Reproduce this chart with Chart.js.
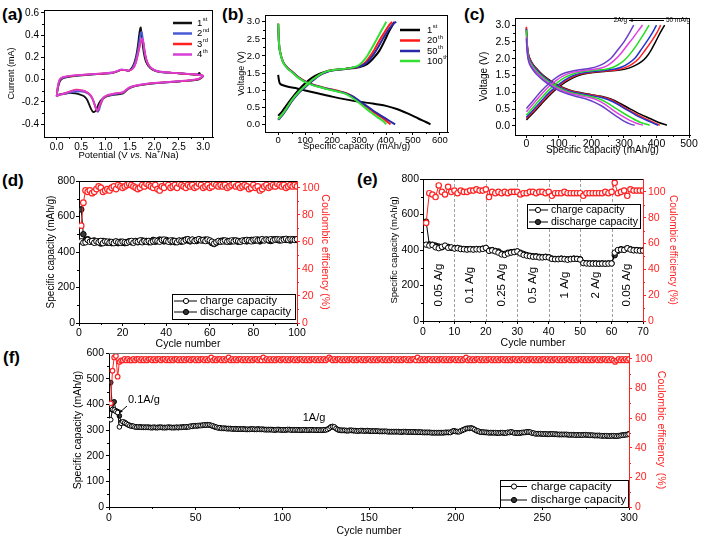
<!DOCTYPE html>
<html><head><meta charset="utf-8">
<script src="https://cdn.jsdelivr.net/npm/chart.js@4.4.1/dist/chart.umd.min.js"></script>
<style>
html,body{margin:0;padding:0;background:#fff;width:702px;height:539px;overflow:hidden;position:relative;font-family:'Liberation Sans',Arial,sans-serif}
canvas{position:absolute;left:0;top:0}
.lbl{position:absolute;font-weight:bold;font-size:17px;color:#000;line-height:1;font-family:'Liberation Sans',Arial,sans-serif}
</style></head><body>
<div class="lbl" style="left:2px;top:6px">(a)</div>
<div class="lbl" style="left:222px;top:6px">(b)</div>
<div class="lbl" style="left:464px;top:6px">(c)</div>
<div class="lbl" style="left:2px;top:172px">(d)</div>
<div class="lbl" style="left:357px;top:171px">(e)</div>
<div class="lbl" style="left:3px;top:349px">(f)</div>
<script>
// ---------------- DATA ----------------
// (a) cyclic voltammetry: [potential V, current mA]
const aCycle1=[[0,-0.15],[0.02,-0.09],[0.06,-0.02],[0.12,0.01],[0.25,0.025],[0.45,0.035],[0.7,0.045],[0.95,0.052],[1.15,0.06],[1.25,0.075],[1.32,0.088],[1.4,0.085],[1.48,0.08],[1.56,0.12],[1.62,0.2],[1.66,0.3],[1.69,0.41],[1.71,0.46],[1.72,0.47],[1.73,0.44],[1.75,0.36],[1.78,0.25],[1.82,0.17],[1.88,0.12],[1.96,0.09],[2.1,0.07],[2.4,0.06],[2.7,0.05],[2.88,0.045],[2.92,0.06],[2.95,0.04],[3,0.03],
 [2.96,0.015],[2.9,0],[2.7,-0.01],[2.4,-0.02],[2.1,-0.03],[1.85,-0.04],[1.65,-0.055],[1.5,-0.075],[1.42,-0.1],[1.36,-0.125],[1.3,-0.13],[1.2,-0.135],[1.08,-0.145],[0.98,-0.16],[0.92,-0.18],[0.87,-0.21],[0.83,-0.25],[0.8,-0.28],[0.77,-0.29],[0.74,-0.29],[0.71,-0.27],[0.67,-0.23],[0.62,-0.18],[0.56,-0.15],[0.48,-0.135],[0.38,-0.125],[0.28,-0.12],[0.18,-0.125],[0.08,-0.13],[0.02,-0.14],[0,-0.15]];
const aCycle2=[[0,-0.15],[0.02,-0.08],[0.06,-0.01],[0.12,0.015],[0.25,0.03],[0.45,0.038],[0.7,0.047],[0.95,0.054],[1.15,0.062],[1.25,0.078],[1.32,0.09],[1.4,0.087],[1.48,0.08],[1.56,0.11],[1.62,0.18],[1.67,0.28],[1.7,0.37],[1.72,0.42],[1.74,0.43],[1.75,0.41],[1.77,0.34],[1.8,0.24],[1.84,0.17],[1.9,0.12],[1.98,0.09],[2.1,0.07],[2.4,0.06],[2.7,0.05],[2.88,0.045],[2.95,0.04],[3,0.035],
 [2.96,0.02],[2.9,0.005],[2.7,-0.01],[2.4,-0.02],[2.1,-0.03],[1.85,-0.04],[1.65,-0.055],[1.5,-0.075],[1.42,-0.1],[1.36,-0.12],[1.3,-0.125],[1.2,-0.13],[1.1,-0.14],[1.02,-0.15],[0.96,-0.17],[0.92,-0.2],[0.89,-0.24],[0.86,-0.28],[0.84,-0.29],[0.82,-0.28],[0.79,-0.24],[0.75,-0.19],[0.7,-0.15],[0.64,-0.125],[0.56,-0.11],[0.48,-0.105],[0.38,-0.11],[0.28,-0.115],[0.18,-0.125],[0.08,-0.135],[0.02,-0.14],[0,-0.15]];
const aCycle3=[[0,-0.15],[0.02,-0.07],[0.06,0],[0.12,0.02],[0.25,0.032],[0.45,0.04],[0.7,0.048],[0.95,0.055],[1.15,0.063],[1.25,0.078],[1.32,0.088],[1.4,0.086],[1.48,0.08],[1.56,0.1],[1.62,0.15],[1.67,0.24],[1.71,0.32],[1.74,0.36],[1.76,0.36],[1.78,0.32],[1.81,0.23],[1.85,0.16],[1.9,0.12],[1.98,0.09],[2.1,0.072],[2.4,0.06],[2.7,0.05],[2.88,0.045],[2.95,0.04],[3,0.035],
 [2.96,0.02],[2.9,0.005],[2.7,-0.008],[2.4,-0.018],[2.1,-0.028],[1.85,-0.038],[1.65,-0.052],[1.5,-0.07],[1.42,-0.095],[1.36,-0.115],[1.3,-0.12],[1.2,-0.125],[1.1,-0.135],[1.02,-0.145],[0.96,-0.165],[0.92,-0.195],[0.88,-0.235],[0.85,-0.27],[0.83,-0.28],[0.81,-0.27],[0.78,-0.23],[0.74,-0.18],[0.69,-0.14],[0.62,-0.115],[0.54,-0.1],[0.46,-0.092],[0.4,-0.09],[0.32,-0.1],[0.22,-0.115],[0.12,-0.13],[0.04,-0.14],[0,-0.15]];
const aCycle4=[[0,-0.15],[0.02,-0.07],[0.06,0],[0.12,0.02],[0.25,0.033],[0.45,0.041],[0.7,0.049],[0.95,0.056],[1.15,0.064],[1.25,0.079],[1.32,0.09],[1.4,0.087],[1.48,0.081],[1.56,0.1],[1.62,0.155],[1.67,0.25],[1.71,0.33],[1.74,0.37],[1.76,0.365],[1.78,0.32],[1.81,0.23],[1.85,0.16],[1.9,0.12],[1.98,0.09],[2.1,0.073],[2.4,0.061],[2.7,0.051],[2.88,0.046],[2.95,0.04],[3,0.036],
 [2.96,0.022],[2.9,0.006],[2.7,-0.007],[2.4,-0.017],[2.1,-0.027],[1.85,-0.037],[1.65,-0.05],[1.5,-0.068],[1.42,-0.092],[1.36,-0.112],[1.3,-0.118],[1.2,-0.124],[1.1,-0.133],[1.02,-0.143],[0.96,-0.16],[0.92,-0.19],[0.88,-0.23],[0.85,-0.265],[0.83,-0.275],[0.8,-0.26],[0.77,-0.22],[0.73,-0.17],[0.68,-0.135],[0.61,-0.112],[0.53,-0.1],[0.45,-0.095],[0.39,-0.095],[0.31,-0.103],[0.21,-0.117],[0.11,-0.13],[0.04,-0.14],[0,-0.15]];
const aLegend=[['1','st'],['2','nd'],['3','rd'],['4','th']];

// (b) charge/discharge profiles: [capacity mAh/g, voltage V]
const b1Dis=[[0,1.45],[1,1.38],[3,1.28],[6,1.2],[15,1.15],[40,1.09],[70,1.05],[100,0.99],[150,0.9],[200,0.81],[250,0.73],[300,0.66],[350,0.61],[400,0.54],[440,0.45],[480,0.32],[520,0.17],[550,0.06],[565,0]];
const b1Chg=[[0,0.25],[15,0.38],[30,0.55],[50,0.76],[75,1.0],[100,1.2],[125,1.36],[150,1.47],[175,1.54],[200,1.58],[250,1.62],[300,1.67],[330,1.76],[355,1.95],[375,2.15],[395,2.45],[410,2.7],[424,2.9],[432,3.0]];
const b20Dis=[[0,2.95],[2,2.5],[6,2.17],[18,1.83],[35,1.65],[52,1.54],[75,1.38],[102,1.25],[130,1.16],[153,1.11],[180,1.05],[204,1.01],[230,0.96],[253,0.91],[275,0.82],[302,0.66],[330,0.5],[352,0.37],[380,0.22],[401,0.1],[417,0]];
const b20Chg=[[0,0.15],[15,0.28],[30,0.45],[52,0.71],[75,0.93],[102,1.12],[128,1.3],[153,1.44],[180,1.54],[204,1.59],[230,1.61],[253,1.63],[280,1.66],[302,1.7],[322,1.8],[340,1.98],[358,2.2],[376,2.46],[395,2.7],[413,2.92],[423,3.0]];
const b50Dis=[[0,2.93],[2,2.48],[6,2.15],[18,1.82],[35,1.64],[52,1.53],[75,1.37],[102,1.24],[130,1.15],[153,1.1],[180,1.04],[204,1.0],[230,0.95],[253,0.9],[278,0.81],[305,0.66],[335,0.5],[360,0.36],[390,0.21],[415,0.09],[434,0]];
const b50Chg=[[0,0.13],[15,0.26],[30,0.43],[52,0.69],[75,0.91],[102,1.1],[128,1.28],[153,1.43],[180,1.53],[204,1.58],[230,1.61],[253,1.63],[280,1.66],[305,1.7],[328,1.8],[348,1.98],[368,2.22],[388,2.5],[408,2.75],[428,2.95],[438,3.0]];
const b100Dis=[[0,2.95],[2,2.5],[6,2.16],[18,1.81],[35,1.63],[52,1.52],[75,1.36],[102,1.23],[130,1.14],[153,1.09],[180,1.03],[204,0.99],[230,0.94],[250,0.89],[270,0.8],[295,0.66],[320,0.5],[342,0.36],[368,0.21],[390,0.09],[401,0]];
const b100Chg=[[0,0.15],[15,0.29],[30,0.46],[52,0.72],[75,0.94],[102,1.13],[128,1.31],[153,1.45],[180,1.55],[204,1.59],[230,1.61],[253,1.63],[275,1.66],[295,1.71],[312,1.82],[330,2.0],[348,2.24],[366,2.5],[384,2.76],[401,3.0]];
const bLegend=[['1','st'],['20','th'],['50','th'],['100','th']];

// (c) rate profiles 50 mA/g ... 2 A/g
const cChg50=[[0,0.18],[10,0.28],[25,0.43],[45,0.64],[70,0.9],[95,1.12],[120,1.3],[145,1.44],[170,1.53],[205,1.59],[240,1.62],[287,1.66],[315,1.72],[335,1.8],[355,1.92],[369,2.05],[383,2.25],[397,2.5],[412,2.78],[425,3.0]];
const cChg100=[[0,0.22],[10,0.32],[25,0.47],[45,0.68],[70,0.94],[95,1.16],[120,1.34],[145,1.47],[170,1.55],[205,1.6],[240,1.63],[280,1.67],[305,1.74],[325,1.84],[345,2.0],[365,2.25],[385,2.52],[400,2.75],[413,3.0]];
const cChg200=[[0,0.26],[10,0.36],[25,0.52],[45,0.73],[70,0.99],[95,1.2],[120,1.38],[145,1.5],[170,1.57],[205,1.62],[240,1.65],[272,1.69],[295,1.76],[315,1.87],[335,2.03],[355,2.3],[373,2.55],[388,2.78],[400,3.0]];
const cChg500=[[0,0.32],[10,0.43],[25,0.6],[45,0.82],[70,1.08],[95,1.29],[120,1.45],[145,1.55],[170,1.61],[205,1.65],[240,1.68],[262,1.73],[282,1.82],[302,1.96],[322,2.18],[342,2.45],[360,2.72],[377,3.0]];
const cChg1000=[[0,0.42],[10,0.53],[25,0.7],[45,0.93],[70,1.18],[95,1.38],[120,1.52],[145,1.6],[170,1.64],[205,1.68],[230,1.72],[250,1.8],[270,1.95],[290,2.15],[310,2.4],[328,2.62],[343,2.82],[357,3.0]];
const cChg2000=[[0,0.52],[10,0.63],[25,0.8],[45,1.03],[70,1.27],[95,1.46],[120,1.58],[145,1.64],[170,1.68],[200,1.72],[220,1.78],[240,1.87],[261,2.02],[280,2.25],[300,2.5],[316,2.75],[330,3.0]];
const cDis50=[[0,2.92],[2,2.5],[5,2.2],[10,2.02],[20,1.84],[32,1.7],[50,1.52],[75,1.34],[100,1.2],[130,1.08],[160,1.0],[200,0.93],[230,0.88],[260,0.8],[290,0.66],[320,0.5],[350,0.35],[380,0.22],[405,0.11],[432,0.02]];
const cDis100=[[0,2.95],[2,2.5],[5,2.2],[10,2.0],[20,1.82],[32,1.68],[50,1.5],[75,1.32],[100,1.18],[130,1.06],[160,0.99],[200,0.92],[230,0.87],[255,0.8],[280,0.68],[310,0.5],[340,0.34],[370,0.2],[392,0.1],[410,0.02]];
const cDis200=[[0,2.88],[2,2.45],[5,2.15],[10,1.97],[20,1.8],[32,1.66],[50,1.48],[75,1.3],[100,1.16],[130,1.04],[160,0.97],[200,0.9],[228,0.85],[252,0.78],[278,0.66],[305,0.5],[335,0.33],[365,0.19],[388,0.09],[405,0.02]];
const cDis500=[[0,2.85],[2,2.4],[5,2.1],[10,1.92],[20,1.76],[32,1.62],[50,1.45],[75,1.27],[100,1.13],[130,1.01],[160,0.94],[200,0.87],[225,0.8],[250,0.68],[275,0.52],[300,0.37],[325,0.23],[350,0.11],[379,0.02]];
const cDis1000=[[0,2.65],[2,2.3],[5,2.05],[10,1.88],[20,1.72],[32,1.58],[50,1.41],[75,1.23],[100,1.09],[130,0.98],[160,0.91],[200,0.83],[220,0.76],[242,0.64],[265,0.48],[290,0.32],[315,0.18],[338,0.08],[358,0.02]];
const cDis2000=[[0,2.6],[2,2.25],[5,2.0],[10,1.83],[20,1.67],[32,1.53],[50,1.37],[75,1.19],[100,1.05],[130,0.94],[160,0.86],[190,0.78],[210,0.7],[230,0.6],[250,0.47],[275,0.3],[300,0.14],[318,0.06],[333,0.02]];
const cRateText=['2A/g','50 mA/g'];

// (d) cycling at 50 mA/g, cycles 1..100
const dCharge=[460,452,455,468,458,462,452,460,455,462, 450,460,458,452,456,450,460,455,452,458,
 455,452,458,462,452,460,458,465,455,462, 458,462,455,460,465,462,458,468,470,462,
 458,465,460,462,455,465,462,460,468,472, 465,470,462,468,472,465,468,462,470,465,
 458,448,455,462,458,460,465,458,462,465, 460,465,462,458,465,462,468,465,460,468,
 470,465,468,472,465,470,468,472,466,470, 472,470,466,470,474,468,472,470,468,472];
const dDischarge=[640,500,468,472,462,458,465,455,460,448, 462,455,452,458,450,456,454,450,458,452,
 450,456,460,455,458,462,455,460,465,458, 462,455,460,468,458,462,470,465,460,468,
 462,456,465,455,460,462,458,466,470,465, 460,468,465,462,470,468,465,470,466,460,
 450,445,452,458,462,465,460,462,458,460, 465,462,458,460,462,465,460,466,468,462,
 465,470,460,466,468,470,465,462,470,472, 468,465,470,472,468,470,465,472,470,468];
const dCE=[72,89,98,97,98,96,97,99,101,100, 97,98,99,98,100,101,99,102,101,100,
 101,102,103,102,101,100,99,100,102,101, 103,102,101,100,102,99,98,101,100,104,
 102,100,101,102,100,103,102,101,100,102, 101,102,100,101,103,102,100,101,102,100,
 101,103,102,101,102,101,102,100,101,102, 103,101,102,100,101,102,101,99,100,102,
 100,101,98,99,101,102,100,101,102,101, 103,102,101,102,100,101,102,101,102,101];

// (e) rate capability, cycles 1..70
const eCharge=[430,425,428,415,410,418,425,412,415,408, 410,405,404,402,404,402,404,403,406,412,
 395,398,392,385,375,372,380,385,388,392, 380,372,368,365,362,362,358,358,360,358,
 350,348,348,350,348,345,348,350,350,346, 326,324,323,323,323,322,323,322,323,324,
 385,400,402,400,410,402,398,398,396,396];
const eDischarge=[560,432,430,425,420,415,422,418,412,410, 412,408,406,405,406,404,406,405,408,410,
 398,400,395,392,380,378,385,388,390,392, 385,378,372,368,365,365,362,360,362,360,
 352,350,350,352,350,348,350,352,350,348, 328,326,325,325,325,324,325,324,325,325,
 370,395,405,402,410,405,400,400,398,398];
const eCE=[76,99,98,96,105,100,98,104,100,101, 99,101,100,100,101,101,102,101,101,102,
 96,100,99,100,99,100,99,100,100,100, 98,99,99,100,100,99,100,100,99,100,
 97,99,99,99,100,99,99,99,99,99, 97,99,99,99,99,99,99,100,99,100,
 107,99,100,101,97,102,101,101,101,101];
const eRates=['0.05 A/g','0.1 A/g','0.25 A/g','0.5 A/g','1 A/g','2 A/g','0.05 A/g'];
const eRateCenters=[5,15,25,35,45,55,65];
const eRateBounds=[10,20,30,40,50,60];

// (f) long cycling at 1 A/g, cycles 1..300
const fCharge=[340,380,378,372,368,312,326,332,328,325,321,317,315,315,312,311,312,311,310,311,
 310,311,310,309,310,311,310,309,310,311,310,309,310,311,310,310,309,310,311,310,
 311,310,311,312,313,312,315,314,317,316,317,318,317,319,320,319,320,320,318,316,
 313,311,308,309,306,307,306,305,306,305,304,305,304,303,304,303,304,303,302,303,
 302,303,304,303,302,303,302,303,302,301,302,301,302,301,300,301,302,301,300,301,
 300,301,302,301,300,301,300,301,300,299,300,301,300,299,300,301,300,299,300,299,
 300,299,300,301,300,302,306,311,313,312,306,302,300,299,298,299,298,297,298,299,
 298,297,296,297,298,297,296,297,298,297,296,295,296,295,296,295,294,295,294,295,
 293,294,293,294,293,294,293,292,293,294,293,292,293,292,293,292,291,292,291,292,
 290,291,290,291,290,289,290,289,290,289,290,289,290,291,290,291,290,295,296,294,
 294,293,297,300,302,306,306,307,307,306,302,297,296,292,291,292,291,290,289,290,
 290,289,290,289,288,289,290,289,288,291,290,293,291,288,289,288,289,290,291,290,
 293,292,292,288,288,285,286,285,286,285,284,285,284,283,284,285,284,283,282,283,
 282,283,282,283,282,281,282,281,280,281,280,281,280,281,282,281,280,279,280,279,
 278,279,278,277,278,277,278,277,276,277,278,277,276,277,278,279,280,281,282,284];
const fDischarge=[485,378,410,375,372,355,330,328,330,324,320,318,316,314,313,312,311,312,311,310,
 311,310,311,310,309,310,309,310,311,310,309,310,309,310,311,309,310,309,310,309,
 310,311,312,311,312,313,314,315,316,317,316,317,318,318,319,320,321,319,317,315,
 312,310,309,308,307,306,307,306,305,306,305,304,305,304,303,304,303,304,303,302,
 303,304,303,302,303,304,303,302,303,302,301,302,301,302,301,300,301,302,301,300,
 301,300,301,302,301,300,301,300,301,300,299,300,301,300,299,300,301,300,299,300,
 299,300,299,300,301,303,307,312,314,311,305,301,299,298,299,298,297,298,299,298,
 297,298,297,296,297,298,297,296,297,296,295,296,295,296,295,294,295,294,295,294,
 294,293,294,293,294,293,294,293,292,293,294,293,292,293,292,293,292,291,292,291,
 291,290,291,290,291,290,289,290,289,290,289,290,289,290,291,290,291,294,297,295,
 293,294,296,299,303,305,307,306,308,305,301,298,295,293,292,291,290,291,290,289,
 289,290,289,288,289,290,289,288,289,290,291,292,290,289,288,289,288,289,290,291,
 292,293,291,289,287,286,285,286,285,284,285,284,283,284,285,284,283,284,283,282,
 283,282,283,282,281,282,281,282,281,280,281,280,281,282,281,280,279,280,279,278,
 279,278,279,278,277,278,277,276,277,278,277,276,277,278,279,280,281,282,283,285];
const fCE=[70,92,101,102,88,98,99,99,100,99,100,99,99,100,99,100,100,99,100,99,
 100,99,100,100,99,100,99,100,100,99,100,100,99,100,99,100,99,100,100,99,
 100,99,100,99,100,100,99,100,100,99,100,99,100,100,99,100,99,100,101,99,
 100,99,100,100,99,100,99,100,101,99,100,99,100,99,100,100,99,100,99,100,
 99,100,99,100,100,99,100,99,101,99,100,99,100,99,100,99,100,100,99,100,
 100,99,100,99,100,100,99,100,99,100,100,99,100,99,100,99,100,100,99,100,
 99,100,99,100,99,100,101,100,99,100,99,100,100,99,100,99,100,99,100,100,
 99,100,99,100,100,99,100,99,100,100,99,100,99,100,99,100,100,99,100,99,
 100,99,100,100,99,100,99,100,99,100,100,99,100,99,100,100,99,101,99,100,
 99,100,99,100,100,99,100,99,100,99,100,100,99,100,99,100,99,100,100,99,
 100,99,100,99,100,101,99,100,99,100,99,100,100,99,100,99,100,99,100,100,
 99,100,99,100,99,100,100,99,100,99,100,99,100,100,99,100,99,100,100,99,
 100,99,100,100,99,100,99,100,99,100,100,99,100,99,100,99,100,100,99,100,
 99,100,99,100,100,99,100,99,100,99,100,100,99,100,99,100,99,100,99,100,
 100,99,100,99,100,100,99,100,99,100,99,98,99,100,99,100,99,100,99,100];
const capLabels=['charge capacity','discharge capacity'];

// tick labels
const aXTicks=[0,0.5,1,1.5,2,2.5,3], aYTicks=[-0.4,-0.2,0,0.2,0.4,0.6];
const bXTicks=[0,100,200,300,400,500,600], vTicks=[0,0.5,1,1.5,2,2.5,3];
const cXTicks=[0,100,200,300,400,500];
const dXTicks=[0,20,40,60,80,100], eXTicks=[0,10,20,30,40,50,60,70], fXTicks=[0,50,100,150,200,250,300];
const cap800Ticks=[0,200,400,600,800], cap600Ticks=[0,100,200,300,400,500,600], ceTicks=[0,20,40,60,80,100];

// ---------------- RENDER ----------------
const FONT="'Liberation Sans', Arial, Helvetica, sans-serif";
const W=702,H=539, RED='#ff2222';
const pairs=a=>a.map(p=>({x:p[0],y:p[1]}));
const cyc=a=>a.map((v,i)=>({x:i+1,y:v}));

function axis(o){
  const col=o.color||'#000';
  return {type:'linear',position:o.pos,min:o.min,max:o.max,
    grid:{display:true,drawOnChartArea:false,drawTicks:true,tickLength:o.tl??3,color:col,lineWidth:1},
    border:{display:true,color:col,width:1},
    ticks:{color:col,font:{family:FONT,size:o.tf},padding:o.pad??2,maxRotation:0,minRotation:0,autoSkip:false,
      callback:(v)=>o.fmt?o.fmt(v):String(v)},
    title:{display:!!o.title,text:o.title||'',color:col,font:{family:FONT,size:o.ttf||10},padding:0},
    afterBuildTicks:(s)=>{s.ticks=o.ticks.map(v=>({value:v}));},
    afterFit:(s)=>{ if(o.pos==='bottom') s.height=o.size; else s.width=o.size;
      s.paddingLeft=0;s.paddingRight=0;s.paddingTop=0;s.paddingBottom=0; }
  };
}
// frame (top/right edges) and minor ticks half-way between majors
function frame(g,topColor){
  return {id:'frame',afterDraw(ch){const a=ch.chartArea,c=ch.ctx;c.save();c.lineWidth=1;c.strokeStyle=topColor||'#000';
    c.beginPath();const ty=Math.round(a.top)+0.5;c.moveTo(a.left,ty);c.lineTo(a.right,ty);c.stroke();
    if(!g.right){c.strokeStyle='#000';c.beginPath();const rx=Math.round(a.right)-0.5;c.moveTo(rx,a.top);c.lineTo(rx,a.bottom);c.stroke();}
    Object.values(ch.scales).forEach(s=>{const t=s.ticks.map(k=>k.value);c.strokeStyle=s.options.border.color;c.beginPath();
      for(let i=0;i<t.length-1;i++){const m=(t[i]+t[i+1])/2,p=Math.round(s.getPixelForValue(m))+0.5;
        if(s.position==='bottom'){c.moveTo(p,a.bottom);c.lineTo(p,a.bottom+2);}
        else if(s.position==='left'){c.moveTo(a.left,p);c.lineTo(a.left-2,p);}
        else {c.moveTo(a.right,p);c.lineTo(a.right+2,p);} }
      c.stroke();});
    c.restore();}};
}
function build(g,datasets,scales,extra){
  const cv=document.createElement('canvas');cv.width=W;cv.height=H;cv.style.width=W+'px';cv.style.height=H+'px';
  document.body.appendChild(cv);
  return new Chart(cv.getContext('2d'),{type:'scatter',data:{datasets},
    options:{responsive:false,animation:false,devicePixelRatio:1,
      layout:{padding:{left:g.bx,top:g.t,right:W-(g.right?g.rx:g.r),bottom:H-g.by}},
      plugins:{legend:{display:false},tooltip:{enabled:false}},scales},
    plugins:[frame(g,g.topColor),extra||{id:'none'}]});
}
function curve(d,color,w){return {data:pairs(d),showLine:true,borderColor:color,borderWidth:w||1.5,pointRadius:0,tension:0.3,fill:false};}
function supText(c,x,y,base,sup,size){
  c.font=size+'px '+FONT;c.textBaseline='middle';c.textAlign='left';c.fillStyle='#000';c.fillText(base,x,y);
  const w=c.measureText(base).width;c.font=(size*0.62)+'px '+FONT;c.fillText(sup,x+w+0.5,y-size*0.38);
}
function lineLegend(c,labels,colors,x1,x2,tx,ys,fs,lw){
  c.save();labels.forEach((l,i)=>{c.strokeStyle=colors[i];c.lineWidth=lw;c.beginPath();c.moveTo(x1,ys[i]);c.lineTo(x2,ys[i]);c.stroke();supText(c,tx,ys[i],l[0],l[1],fs);});c.restore();
}
function capLegend(c,bx,by,bw,bh,ys,lx1,lx2,mx,tx,fs){
  c.save();c.fillStyle='#fff';c.fillRect(bx,by,bw,bh);c.strokeStyle='#000';c.lineWidth=1;c.strokeRect(bx+0.5,by+0.5,bw,bh);
  c.font=fs+'px '+FONT;c.textBaseline='middle';c.textAlign='left';
  ys.forEach((y,i)=>{c.strokeStyle='#000';c.beginPath();c.moveTo(lx1,y);c.lineTo(lx2,y);c.stroke();
    c.beginPath();c.arc(mx,y,2.6,0,Math.PI*2);c.fillStyle=i?'#333':'#fff';c.fill();c.stroke();
    c.fillStyle='#000';c.fillText(capLabels[i],tx,y);});
  c.restore();
}
function arrow(c,x1,y1,x2,y2,hs){
  c.beginPath();c.moveTo(x1,y1);c.lineTo(x2,y2);c.stroke();
  const an=Math.atan2(y2-y1,x2-x1);c.beginPath();c.moveTo(x2,y2);
  c.lineTo(x2-hs*Math.cos(an-0.4),y2-hs*Math.sin(an-0.4));c.lineTo(x2-hs*Math.cos(an+0.4),y2-hs*Math.sin(an+0.4));c.closePath();c.fill();
}
const f1=v=>v.toFixed(1);

// (a)
const aColors=['#111111','#4a5ad6','#ff2020','#d83ed8'];
build({bx:6,l:44,t:10,r:213,by:165},
  [curve(aCycle4,aColors[3],1.8),curve(aCycle3,aColors[2],1.8),curve(aCycle2,aColors[1],1.8),curve(aCycle1,aColors[0],1.8)],
  {x:axis({pos:'bottom',min:-0.26,max:3.2,ticks:aXTicks,fmt:f1,tf:10,size:28,tl:3,pad:1}),
   y:axis({pos:'left',min:-0.517,max:0.627,ticks:aYTicks,fmt:f1,tf:10,size:38,title:'Current (mA)',ttf:9,tl:3,pad:2})},
  {id:'ann',afterDraw(ch){const c=ch.ctx;lineLegend(c,aLegend,aColors,173,192,197,[23,33.5,44,54.5],9.5,2.5);
    // x title with italic "vs." and superscript "+"
    const parts=[['Potential (V ','n'],['vs.','i'],[' Na','n'],['+','s'],['/Na)','n']];const fs=9.5;c.save();c.fillStyle='#000';c.textBaseline='middle';c.textAlign='left';
    const fontOf=t=>t==='i'?'italic '+fs+'px '+FONT:(t==='s'?(fs*0.65)+'px '+FONT:fs+'px '+FONT);
    let tw=0;parts.forEach(p=>{c.font=fontOf(p[1]);tw+=c.measureText(p[0]).width;});
    let x=128.5-tw/2;parts.forEach(p=>{c.font=fontOf(p[1]);c.fillText(p[0],x,p[1]==='s'?151.5:155);x+=c.measureText(p[0]).width;});c.restore();}});

// (b)
const bColors=['#000000','#ff1a1a','#2a2aa8','#33e033'];
build({bx:236,l:265,t:15,r:448,by:152},
  [curve(b100Dis,bColors[3],2),curve(b100Chg,bColors[3],2),curve(b50Dis,bColors[2],2),curve(b50Chg,bColors[2],2),
   curve(b20Dis,bColors[1],2),curve(b20Chg,bColors[1],2),curve(b1Dis,bColors[0],2),curve(b1Chg,bColors[0],2)],
  {x:axis({pos:'bottom',min:-49,max:630,ticks:bXTicks,tf:9.5,size:20,title:'Specific capacity (mAh/g)',ttf:9.5,tl:3,pad:0}),
   y:axis({pos:'left',min:-0.225,max:3.2,ticks:vTicks,fmt:f1,tf:9.5,size:29,title:'Voltage (V)',ttf:9,tl:3,pad:2})},
  {id:'ann',afterDraw(ch){lineLegend(ch.ctx,bLegend,bColors,400,420,427,[30,40.5,51,61],9.5,2.5);}});

// (c)
const cColors=['#000000','#ff2020','#2233cc','#22dd22','#e040e0','#6a3fc9'];
build({bx:478,l:515,t:18,r:690,by:156},
  [curve(cDis2000,cColors[5]),curve(cChg2000,cColors[5]),curve(cDis1000,cColors[4]),curve(cChg1000,cColors[4]),
   curve(cDis500,cColors[3]),curve(cChg500,cColors[3]),curve(cDis200,cColors[2]),curve(cChg200,cColors[2]),
   curve(cDis100,cColors[1]),curve(cChg100,cColors[1]),curve(cDis50,cColors[0]),curve(cChg50,cColors[0])],
  {x:axis({pos:'bottom',min:-35,max:503,ticks:cXTicks,tf:10.5,size:21,title:'Specific capacity (mAh/g)',ttf:10,tl:3,pad:0}),
   y:axis({pos:'left',min:-0.27,max:3.21,ticks:vTicks,fmt:f1,tf:10.5,size:37,title:'Voltage (V)',ttf:10,tl:3,pad:2})},
  {id:'ann',afterDraw(ch){const c=ch.ctx;c.save();c.fillStyle='#000';c.strokeStyle='#000';c.lineWidth=1;c.font='6.5px '+FONT;c.textBaseline='middle';
    c.textAlign='right';c.fillText(cRateText[0],627,20.5);c.textAlign='left';c.fillText(cRateText[1],666,20.5);arrow(c,664,20.5,629,20.5,4);c.restore();}});

// (d)
const capDs=(ch,dis,yid,r)=>[
  {data:cyc(ch),showLine:true,borderColor:'#000',borderWidth:1,pointRadius:r,pointBackgroundColor:'#fff',pointBorderColor:'#000',pointBorderWidth:1,yAxisID:yid},
  {data:cyc(dis),showLine:true,borderColor:'#000',borderWidth:1,pointRadius:r,pointBackgroundColor:'#3a3a3a',pointBorderColor:'#000',pointBorderWidth:1,yAxisID:yid}];
const ceDs=(ce,r)=>({data:cyc(ce),showLine:true,borderColor:RED,borderWidth:1,pointRadius:r,pointBackgroundColor:'#fff',pointBorderColor:RED,pointBorderWidth:1.2,yAxisID:'y2'});
build({bx:45,l:79,t:181,r:297,rx:331,right:true,by:350.5},
  [ceDs(dCE,2.8),...capDs(dCharge,dDischarge,'y',2.8)],
  {x:axis({pos:'bottom',min:0,max:100,ticks:dXTicks,tf:10.5,size:27.5,title:'Cycle number',ttf:10.5,tl:3,pad:1}),
   y:axis({pos:'left',min:0,max:800,ticks:cap800Ticks,tf:10.5,size:34,title:'Specific capacity (mAh/g)',ttf:10,tl:3,pad:1}),
   y2:axis({pos:'right',min:0,max:105,ticks:ceTicks,tf:10.5,size:34,title:'Coulombic efficiency (%)',ttf:10.5,color:RED,tl:3,pad:2})},
  {id:'ann',afterDraw(ch){capLegend(ch.ctx,172,294,123,25,[301,312],174,197,186,200,11);}});

// (e)
build({bx:389,l:423,t:179,r:643,rx:679,right:true,by:349.5},
  [ceDs(eCE,2.7),...capDs(eCharge,eDischarge,'y',2.7)],
  {x:axis({pos:'bottom',min:0,max:70,ticks:eXTicks,tf:10.5,size:28.5,title:'Cycle number',ttf:10.5,tl:3,pad:1.5}),
   y:axis({pos:'left',min:0,max:800,ticks:cap800Ticks,tf:10.5,size:34,title:'Specific capacity (mAh/g)',ttf:9.5,tl:3,pad:1}),
   y2:axis({pos:'right',min:0,max:110,ticks:ceTicks,tf:10.5,size:36,title:'Coulombic efficiency (%)',ttf:10,color:RED,tl:3,pad:2})},
  {id:'ann',
   beforeDatasetsDraw(ch){const c=ch.ctx,x=ch.scales.x,a=ch.chartArea;c.save();c.strokeStyle='#a0a0a0';c.lineWidth=1;c.setLineDash([3,2]);
     eRateBounds.forEach(v=>{const px=Math.round(x.getPixelForValue(v))+0.5;c.beginPath();c.moveTo(px,a.top);c.lineTo(px,a.bottom);c.stroke();});
     c.setLineDash([]);c.fillStyle='#000';c.font='11.5px '+FONT;c.textAlign='center';c.textBaseline='middle';
     eRates.forEach((t,i)=>{c.save();c.translate(x.getPixelForValue(eRateCenters[i]),285);c.rotate(-Math.PI/2);c.fillText(t,0,0);c.restore();});c.restore();},
   afterDraw(ch){capLegend(ch.ctx,527,204,113,24,[210,222],529,548,538,551,10.5);}});

// (f)
build({bx:72,l:109,t:353,r:629,rx:667,right:true,by:537,topColor:'#777'},
  [ceDs(fCE,2.3),...capDs(fCharge,fDischarge,'y',2.3)],
  {x:axis({pos:'bottom',min:0,max:300,ticks:fXTicks,tf:10.5,size:30,title:'Cycle number',ttf:10.5,tl:3,pad:1.5}),
   y:axis({pos:'left',min:0,max:600,ticks:cap600Ticks,tf:10.5,size:37,title:'Specific capacity (mAh/g)',ttf:10.5,tl:3,pad:2}),
   y2:axis({pos:'right',min:0,max:104,ticks:ceTicks,tf:10.5,size:38,title:'Coulombic efficiency  (%)',ttf:10.5,color:RED,tl:3,pad:3})},
  {id:'ann',afterDraw(ch){const c=ch.ctx;c.save();c.fillStyle='#000';c.strokeStyle='#000';c.lineWidth=1;c.font='11px '+FONT;c.textBaseline='middle';c.textAlign='left';
     c.fillText('0.1A/g',128,399.5);arrow(c,127,406,119,413,4);
     c.textAlign='center';c.fillText('1A/g',314,417.5);c.restore();
     capLegend(c,500,480,128,27,[486.5,500],501,527,514,531,11.5);}});
</script>
</body></html>
